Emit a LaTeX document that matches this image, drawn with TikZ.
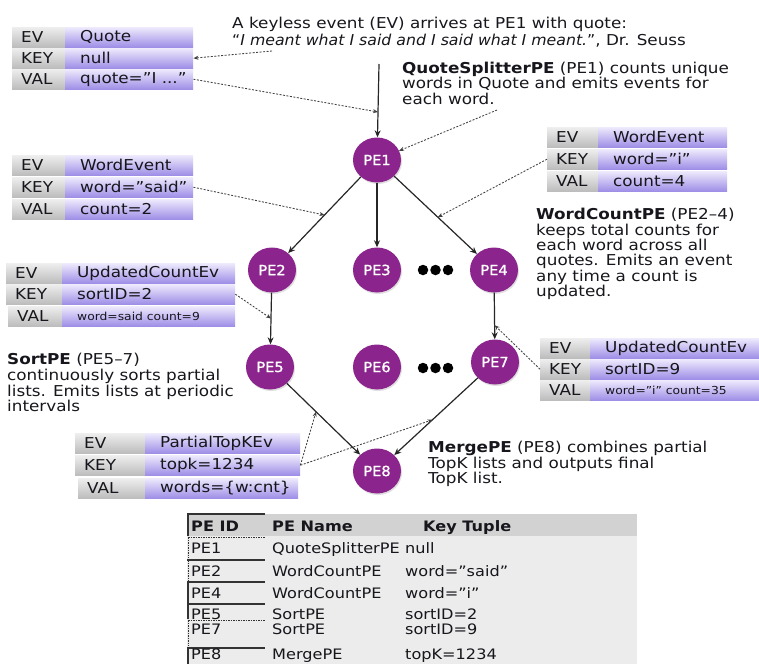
\documentclass[tikz,border=0pt]{standalone}
\usepackage{fontspec}
\setmainfont{DejaVu Sans}[FakeStretch=1.12]
\newfontfamily\quotefont{DejaVu Sans}[FakeStretch=1.05]
\newfontfamily\pefont{DejaVu Sans}[FakeStretch=1.04, FakeBold=1.3]
\usetikzlibrary{arrows.meta,calc,shadows,shapes.geometric}

\definecolor{pecol}{RGB}{139,36,140}
\definecolor{gtop}{RGB}{238,238,238}
\definecolor{gbot}{RGB}{188,188,188}
\definecolor{vtop}{RGB}{238,234,253}
\definecolor{vbot}{RGB}{158,142,230}
\definecolor{ink}{RGB}{22,22,28}
\definecolor{hdr}{RGB}{210,210,210}
\definecolor{tbody}{RGB}{236,236,236}

\tikzset{
  pe/.style={ellipse, fill=pecol, minimum width=48, minimum height=45, inner sep=0pt,
    text=white, font=\pefont\fontsize{14}{14}\selectfont,
    drop shadow={opacity=0.25, shadow xshift=1pt, shadow yshift=-1.5pt}},
  dotc/.style={circle, fill=black, minimum size=10.5, inner sep=0pt},
  flow/.style={draw=black!85, line width=1.2pt, -{Stealth[length=7pt,width=6pt]}},
  note/.style={draw=black!75, line width=0.85pt, dash pattern=on 2pt off 1.5pt,
    -{Stealth[length=5pt,width=4pt]}},
  graycell/.style={rectangle, inner sep=0pt, anchor=north west, minimum height=20,
    top color=gtop, bottom color=gbot},
  violetcell/.style={rectangle, inner sep=0pt, anchor=north west, minimum height=20,
    top color=vtop, bottom color=vbot},
  celltext/.style={anchor=west, inner sep=0pt, text=ink, font=\fontsize{15}{15}\selectfont},
  smalltext/.style={celltext, font=\fontsize{11}{11}\selectfont},
  desc/.style={anchor=north west, inner sep=0pt, align=left, text=ink,
    font=\fontsize{15}{15.4}\selectfont},
  tabtext/.style={anchor=base west, inner sep=0pt, text=ink, font=\fontsize{14.4}{15}\selectfont},
  tabhead/.style={tabtext, font=\fontsize{14.4}{15}\selectfont\bfseries},
  idsolid/.style={draw=black!80, line width=1.3pt},
  iddash/.style={draw=black!80, line width=1pt, dash pattern=on 1.5pt off 1pt},
}

% one row of an event table: name, x, y, label width, value width, label, value, value style
\newcommand\evrow[8]{%
  \node[graycell, minimum width=#4] (#1l) at (#2,#3) {};
  \node[violetcell, minimum width=#5] (#1) at ({#2+#4},#3) {};
  \node[celltext] (#1lt) at ([xshift=9]#1l.west) {#6};
  \node[#8] (#1t) at ([xshift=15]#1.west) {#7};
}

\begin{document}
\begin{tikzpicture}[x=1pt,y=-1pt]
\useasboundingbox (0,0) rectangle (759,664);

% ---- event tables ----
\evrow{t1e}{12}{27}{53}{128}{EV}{Quote}{celltext}
\evrow{t1k}{12}{48}{53}{128}{KEY}{null}{celltext}
\evrow{t1v}{12}{69}{53}{128}{VAL}{quote="I ..."}{celltext}

\evrow{t2e}{12}{155}{53}{128}{EV}{WordEvent}{celltext}
\evrow{t2k}{12}{177}{53}{128}{KEY}{word="said"}{celltext}
\evrow{t2v}{12}{199}{53}{128}{VAL}{count=2}{celltext}

\evrow{t3e}{6}{263}{56}{173}{EV}{UpdatedCountEv}{celltext}
\evrow{t3k}{6}{284}{56}{173}{KEY}{sortID=2}{celltext}
\evrow{t3v}{8}{306}{54}{173}{VAL}{word=said count=9}{smalltext}

\evrow{t4e}{547}{127}{51}{129}{EV}{WordEvent}{celltext}
\evrow{t4k}{547}{149}{51}{129}{KEY}{word="i"}{celltext}
\evrow{t4v}{547}{171}{51}{129}{VAL}{count=4}{celltext}

\evrow{t5e}{540}{338}{50}{169}{EV}{UpdatedCountEv}{celltext}
\evrow{t5k}{540}{359}{50}{169}{KEY}{sortID=9}{celltext}
\evrow{t5v}{540}{380}{50}{169}{VAL}{word="i" count=35}{smalltext}

\evrow{t6e}{75}{433}{70}{155}{EV}{PartialTopKEv}{celltext}
\evrow{t6k}{75}{455}{70}{155}{KEY}{topk=1234}{celltext}
\evrow{t6v}{78}{478}{67}{153}{VAL}{words=\{w:cnt\}}{celltext}

% ---- descriptions ----
\node[desc] (topnote) at (232,17) {A keyless event (EV) arrives at PE1 with quote:\\[1.5pt]
  {\quotefont“{\itshape I meant what I said and I said what I meant.}”}, Dr. Seuss};
\node[desc] (qsnote) at (402,62) {{\bfseries QuoteSplitterPE} (PE1) counts unique\\
  words in Quote and emits events for\\each word.};
\node[desc] (wcnote) at (536,208) {{\bfseries WordCountPE} (PE2--4)\\keeps total counts for\\
  each word across all\\quotes. Emits an event\\any time a count is\\updated.};
\node[desc, font=\fontsize{15}{15.8}\selectfont] (spnote) at (7,353) {{\bfseries SortPE} (PE5--7)\\continuously sorts partial\\
  lists. Emits lists at periodic\\intervals};
\node[desc] (mgnote) at (428,441) {{\bfseries MergePE} (PE8) combines partial\\
  TopK lists and outputs final\\TopK list.};

% ---- processing elements ----
\node[pe] (pe1) at (377,160) {PE1};
\node[pe] (pe2) at (272,270) {PE2};
\node[pe] (pe3) at (377,270) {PE3};
\node[pe] (pe4) at (494,270) {PE4};
\node[pe] (pe5) at (270,367) {PE5};
\node[pe] (pe6) at (377,367) {PE6};
\node[pe] (pe7) at (495,362) {PE7};
\node[pe] (pe8) at (377,471) {PE8};

\node[dotc] (da1) at (423,270) {};
\node[dotc] (da2) at (435.5,270) {};
\node[dotc] (da3) at (448,270) {};
\node[dotc] (db1) at (423,368) {};
\node[dotc] (db2) at (435.5,368) {};
\node[dotc] (db3) at (448,368) {};

% ---- event flow ----
\coordinate (src) at (379,64);
\draw[flow] (src) -- (pe1);
\draw[flow] (pe1) -- (pe2);
\draw[flow] (pe1) -- (pe3);
\draw[flow] (pe1) -- (pe4);
\draw[flow] (pe2) -- (pe5);
\draw[flow] (pe4) -- (pe7);
\draw[flow] (pe5) -- (pe8);
\draw[flow] (pe7) -- (pe8);

% ---- annotations ----
\coordinate (qa) at (272,51);
\coordinate (inhit) at (378,112);
\coordinate (qs) at (497,110);
\coordinate (m12) at ($(pe1)!0.5!(pe2)$);
\coordinate (m14) at ($(pe1)!0.52!(pe4)$);
\coordinate (m25) at ($(pe2)!0.5!(pe5)$);
\coordinate (m47) at ($(pe4)!0.6!(pe7)$);
\coordinate (m58) at ($(pe5)!0.43!(pe8)$);
\coordinate (m78) at ($(pe7)!0.53!(pe8)$);

\draw[note] (qa) -- (t1k.east);
\draw[note] (t1v.east) -- (inhit);
\draw[note] (qs) -- (pe1);
\draw[note] (t2k.east) -- (m12);
\draw[note] (t4kl.west) -- (m14);
\draw[note] (t3k.east) -- (m25);
\draw[note] (t5kl.west) -- (m47);
\draw[note] (t6k.east) -- (m58);
\draw[note] (t6k.east) -- (m78);

% ---- key table ----
\node[fill=hdr, minimum width=450, minimum height=22, inner sep=0pt, anchor=north west] (thead) at (187,514) {};
\node[fill=tbody, minimum width=450, minimum height=128, inner sep=0pt, anchor=north west] (tbod) at (187,536) {};

\draw[idsolid] (187,514) -- (265,514);
\draw[idsolid] (188,514) -- (188,536);
\draw[iddash] (188,537) -- (265,537);
\draw[iddash] (188,537) -- (188,558);
\draw[idsolid] (187,560) -- (265,560);
\draw[iddash] (188,560) -- (188,581);
\draw[idsolid] (187,582) -- (265,582);
\draw[idsolid] (188,582) -- (188,603);
\draw[idsolid] (187,604) -- (265,604);
\draw[idsolid] (188,604) -- (188,619);
\draw[iddash] (188,620) -- (265,620);
\draw[iddash] (188,620) -- (188,646);
\draw[idsolid] (187,648) -- (265,648);
\draw[idsolid] (188,648) -- (188,664);

\node[tabhead] (hid) at (191,531) {PE ID};
\node[tabhead] (hname) at (272,531) {PE Name};
\node[tabhead] (hkey) at (423,531) {Key Tuple};

\node[tabtext] (r1a) at (191,553) {PE1};
\node[tabtext] (r1b) at (272,553) {QuoteSplitterPE};
\node[tabtext] (r1c) at (405,553) {null};
\node[tabtext] (r2a) at (191,576) {PE2};
\node[tabtext] (r2b) at (272,576) {WordCountPE};
\node[tabtext] (r2c) at (405,576) {word="said"};
\node[tabtext] (r3a) at (191,598) {PE4};
\node[tabtext] (r3b) at (272,598) {WordCountPE};
\node[tabtext] (r3c) at (405,598) {word="i"};
\node[tabtext] (r4a) at (191,619) {PE5};
\node[tabtext] (r4b) at (272,619) {SortPE};
\node[tabtext] (r4c) at (405,619) {sortID=2};
\node[tabtext] (r5a) at (191,634) {PE7};
\node[tabtext] (r5b) at (272,634) {SortPE};
\node[tabtext] (r5c) at (405,634) {sortID=9};
\node[tabtext] (r6a) at (191,659) {PE8};
\node[tabtext] (r6b) at (272,659) {MergePE};
\node[tabtext] (r6c) at (405,659) {topK=1234};
\end{tikzpicture}
\end{document}
